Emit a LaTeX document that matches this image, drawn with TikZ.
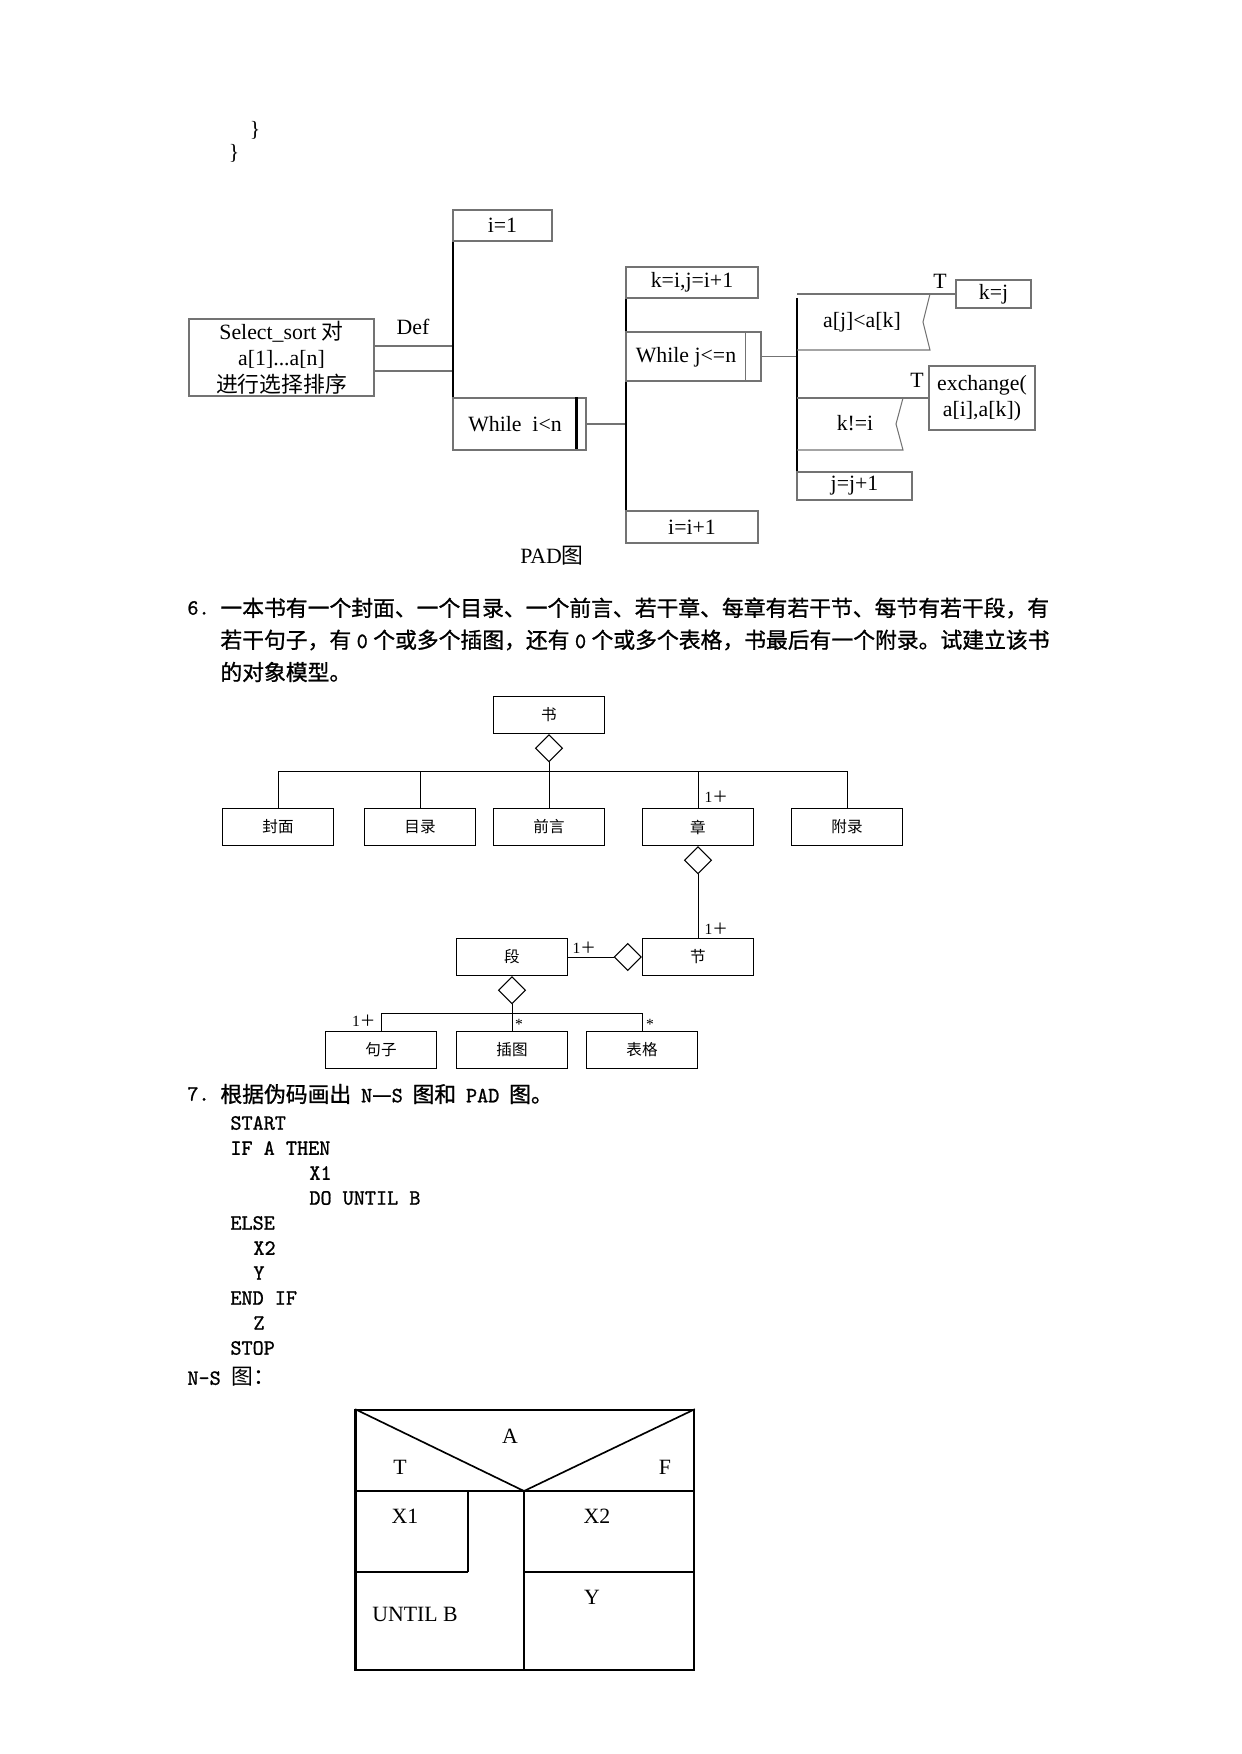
\documentclass[tikz,border=0pt]{standalone}
\usepackage{fontspec}
\setmainfont{Liberation Serif}
\newfontfamily\cjk{Noto Sans CJK SC}
\newfontfamily\cjkhead{Noto Sans CJK SC}[FakeBold=1]
\newfontfamily\codefont{lmmono10-regular.otf}[FakeStretch=0.97, FakeBold=1]
\usetikzlibrary{shapes.geometric,fit}
\newcommand\wuhao{\fontsize{10.5}{12.7}\selectfont}
\newcommand\xiaowu{\fontsize{7.5}{9}\selectfont}
\newcommand\zero{{\codefont\hspace{0.25em}0\hspace{0.25em}}}
\tikzset{
  padbox/.style={draw=black!55, line width=0.5pt, inner sep=0pt, font=\wuhao},
  sz/.style 2 args={minimum width=#1*0.01692cm, minimum height=#2*0.01692cm},
  padtxt/.style={font=\wuhao, inner sep=1pt},
  bar/.style={line width=1.1pt},
  link/.style={draw=black!55, line width=0.5pt},
  cls/.style={draw, line width=0.5pt, minimum width=1.88cm, minimum height=0.63cm, font=\cjk\xiaowu},
  agg/.style={diamond, draw, line width=0.5pt, minimum width=0.46cm, minimum height=0.46cm, inner sep=0pt},
  mult/.style={font=\xiaowu, inner sep=1pt},
  code/.style={font=\codefont\wuhao, anchor=west, inner sep=0pt},
  head/.style={font=\cjkhead\wuhao, anchor=west, inner sep=0pt},
  ns/.style={line width=0.8pt},
}
\begin{document}
\begin{tikzpicture}[x=0.01692cm, y=-0.01692cm]
\useasboundingbox (0,0) rectangle (1241,1754);

% end of the previous program
\node[padtxt] (brace1) at (255,130) {\}};
\node[padtxt] (brace2) at (234,153) {\}};

% PAD of select sort
\node[padbox, sz={185}{77}, align=center] (sel) at (281.5,357.5) {Select\_sort {\cjk 对}\\a[1]...a[n]\\{\cjk 进行选择排序}};
\node[padtxt] (def) at (413,327) {Def};
\coordinate (b1t) at (453,210);
\coordinate (b1b) at (453,438);
\draw[link] (sel.east |- 0,346) -- (b1t |- 0,346);
\draw[link] (sel.east |- 0,371) -- (b1t |- 0,371);
\draw[bar] (b1t) -- (b1b);
\node[padbox, sz={99}{31}] (init) at (502.5,225.5) {i=1};
\node[padbox, fit={(453,398)(586,450)}] (outer) {};
\node[padtxt] (outertxt) at (515,424) {While\ \ i<n};
\draw[bar] (outer.north east) ++(-10,0) -- ++(0,52);

\coordinate (b2t) at (626,267);
\coordinate (b2b) at (626,527);
\draw[link] (outer.east) -- (outer.east -| b2t);
\draw[bar] (b2t) -- (b2b);
\node[padbox, sz={132}{31}] (kinit) at (692,282.5) {k=i,j=i+1};
\node[padbox, fit={(626,332)(761,381)}] (inner) {};
\node[padtxt] (innertxt) at (686,357) {While j<=n};
\draw[link] (inner.north east) ++(-16,0) -- ++(0,49);
\node[padbox, sz={132}{32}] (incr) at (692,527) {i=i+1};

\coordinate (b3t) at (797,298);
\coordinate (b3b) at (797,487);
\draw[link] (inner.east) -- (inner.east -| b3t);
\draw[bar] (b3t) -- (b3b);
% if a[j]<a[k]
\node[padbox, sz={75}{28}] (kj) at (993.5,294) {k=j};
\coordinate (c1) at (797,294);
\draw[link] (kj.west) -- (c1);
\draw[link] (930,294) -- (923,322) -- (930,350) -- (797,350);
\node[padtxt] (c1txt) at (862,322) {a[j]<a[k]};
\node[padtxt] (t1) at (940,281) {T};
% if k!=i
\node[padbox, sz={106}{64}, align=center] (xch) at (982,398) {exchange(\\a[i],a[k])};
\coordinate (c2) at (797,398);
\draw[link] (xch.west) -- (c2);
\draw[link] (903,398) -- (896,424) -- (903,450) -- (797,450);
\node[padtxt] (c2txt) at (855,423) {k!=i};
\node[padtxt] (t2) at (917,380) {T};
\node[padbox, sz={115}{28}] (jinc) at (854.5,486) {j=j+1};

\node[padtxt] (padcap) at (552,556) {PAD{\cjk 图}};

% question 6
\node[code] (q6) at (187,608) {6.};
\node[head] (q6a) at (220,608) {一本书有一个封面、一个目录、一个前言、若干章、每章有若干节、每节有若干段，有};
\node[head] (q6b) at (220,640) {若干句子，有\zero 个或多个插图，还有\zero 个或多个表格，书最后有一个附录。试建立该书};
\node[head] (q6c) at (220,672) {的对象模型。};

% object model of the book
\node[cls] (book) at (549,715) {书};
\node[agg, anchor=north] (bookagg) at (book.south) {};
\coordinate (busl) at (278,771);
\coordinate (busr) at (847,771);
\node[cls] (cover) at (278,827) {封面};
\node[cls] (toc) at (420,827) {目录};
\node[cls] (preface) at (549,827) {前言};
\node[cls] (chapter) at (698,827) {章};
\node[cls] (appendix) at (847,827) {附录};
\draw (bookagg.south) -- (bookagg.south |- busl);
\draw (busl) -- (busr);
\foreach \n in {cover,toc,preface,chapter,appendix}
  \draw (\n.north) -- (\n.north |- busl);
\node[mult, anchor=west] (m1) at (702,797) {1{\cjk ＋}};

\node[agg, anchor=north] (chapagg) at (chapter.south) {};
\node[cls] (section) at (698,957) {节};
\draw (chapagg.south) -- (section.north);
\node[mult, anchor=west] (m2) at (702,929) {1{\cjk ＋}};
\node[agg, anchor=east] (secagg) at (section.west) {};
\node[cls] (para) at (512,957) {段};
\draw (para.east) -- (secagg.west);
\node[mult, anchor=west] (m3) at (570,948) {1{\cjk ＋}};

\node[agg, anchor=north] (paraagg) at (para.south) {};
\coordinate (bus2l) at (381,1013);
\coordinate (bus2r) at (642,1013);
\node[cls] (sentence) at (381,1050) {句子};
\node[cls] (figure) at (512,1050) {插图};
\node[cls] (table) at (642,1050) {表格};
\draw (paraagg.south) -- (paraagg.south |- bus2l);
\draw (bus2l) -- (bus2r);
\foreach \n in {sentence,figure,table}
  \draw (\n.north) -- (\n.north |- bus2l);
\node[mult, anchor=east] (m4) at (378,1021) {1{\cjk ＋}};
\node[mult] (m5) at (519,1024) {*};
\node[mult] (m6) at (650,1024) {*};

% question 7
\node[code] (q7) at (187,1094) {7.};
\node[head] (q7a) at (220,1094) {根据伪码画出{\codefont\hspace{0.45em}N}—{\codefont S\hspace{0.45em}}图和{\codefont\hspace{0.45em}PAD\hspace{0.45em}}图。};
\foreach \t/\xx [count=\i] in {START/230, IF A THEN/230, X1/309, DO UNTIL B/309, ELSE/230, X2/253, Y/253, END IF/230, Z/253, STOP/230}
  \node[code] (code\i) at (\xx, 1098+25*\i) {\t};
\node[code] (nscap) at (187,1377) {N-S {\cjk 图：}};

% N-S chart
\node[ns, draw, inner sep=0pt, fit={(356,1410)(694,1670)}] (nsframe) {};
\coordinate (apex) at (524,1491);
\draw[ns] (nsframe.north west) -- (apex) -- (nsframe.north east);
\draw[ns] (nsframe.west |- apex) -- (nsframe.east |- apex);
\draw[ns] (apex) -- (apex |- nsframe.south);
\draw[ns] (468,1491) -- (468,1572);
\draw[line width=1.2pt] (468,1572) -- (nsframe.west |- 0,1572);
\draw[ns] (apex |- 0,1572) -- (nsframe.east |- 0,1572);
\draw[line width=1.2pt] (nsframe.north west) -- (nsframe.south west);
\node[padtxt] (nsa) at (510,1436) {A};
\node[padtxt] (nst) at (400,1467) {T};
\node[padtxt] (nsf) at (665,1467) {F};
\node[padtxt] (nsx1) at (405,1516) {X1};
\node[padtxt] (nsx2) at (597,1516) {X2};
\node[padtxt] (nsuntil) at (415,1614) {UNTIL B};
\node[padtxt] (nsy) at (592,1597) {Y};
\end{tikzpicture}
\end{document}
